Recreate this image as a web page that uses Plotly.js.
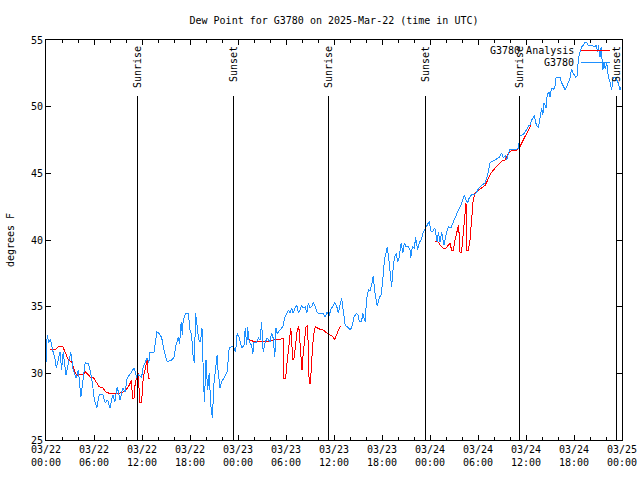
<!DOCTYPE html>
<html>
<head>
<meta charset="utf-8">
<script src="https://cdn.plot.ly/plotly-3.0.1.min.js"></script>
<style>html,body{margin:0;padding:0;background:#fff;}#chart{width:640px;height:480px;}
#chart svg path{shape-rendering:crispEdges;}</style>
</head>
<body>
<div id="chart"></div>
<script>
// Hours since 2025-03-22 00:00 UTC
const obsHours = [0.0,0.15,0.35,0.55,0.8,1.1,1.3,1.75,1.95,2.15,2.5,2.8,3.1,3.4,3.75,4.05,4.35,4.6,4.9,5.3,5.6,5.85,6.05,6.35,6.65,7.1,7.4,7.7,8.0,8.35,8.6,8.9,9.25,9.6,9.9,10.15,10.5,10.7,11.0,11.35,11.6,11.95,12.15,12.5,12.65,12.85,13.0,13.5,13.85,14.05,14.45,14.75,15.15,15.7,16.0,16.25,16.55,16.7,16.9,17.05,17.15,17.45,17.8,18.0,18.2,18.4,18.55,18.7,18.9,19.1,19.3,19.5,19.7,19.8,20.0,20.2,20.4,20.6,20.8,21.0,21.25,21.4,21.5,21.75,21.95,22.4,22.65,22.9,23.2,23.4,23.7,23.9,24.15,24.45,24.75,24.9,25.1,25.2,25.4,25.7,25.85,26.0,26.3,26.55,26.75,26.95,27.15,27.4,27.65,28.0,28.2,28.4,28.6,28.75,28.9,29.25,29.6,29.8,30.1,30.3,30.5,30.7,30.9,31.1,31.35,31.55,31.75,31.95,32.15,32.4,32.6,32.8,33.0,33.2,33.4,33.6,33.85,34.05,34.45,34.65,34.9,35.1,35.4,35.6,35.9,36.1,36.35,36.55,36.75,36.95,37.15,37.4,37.65,38.0,38.2,38.5,38.8,39.0,39.15,39.45,39.6,39.75,39.9,40.0,40.1,40.3,40.5,40.7,40.9,41.1,41.4,41.65,41.9,42.1,42.3,42.5,42.65,42.9,43.1,43.2,43.35,43.55,43.8,43.95,44.15,44.4,44.6,44.8,45.0,45.3,45.5,45.6,45.8,46.05,46.2,46.45,46.65,46.9,47.1,47.3,47.6,47.9,48.15,48.4,48.6,48.9,49.05,49.25,49.45,49.75,50.0,50.3,50.6,50.9,51.25,51.55,51.85,52.1,52.3,52.5,52.7,52.9,53.2,53.6,53.85,54.05,54.45,54.9,55.1,55.3,55.5,55.7,56.1,56.4,56.65,56.95,57.15,57.4,57.6,57.8,58.0,58.4,58.85,59.05,59.15,59.25,59.65,59.9,60.1,60.3,60.5,60.7,60.9,61.05,61.2,61.35,61.55,61.75,61.95,62.1,62.25,62.5,62.65,62.9,63.0,63.2,63.4,63.6,63.75,63.9,64.25,64.45,64.65,64.9,65.1,65.3,65.5,65.7,65.9,66.25,66.4,66.55,66.75,66.95,67.15,67.4,67.6,67.8,68.2,68.6,68.8,68.95,69.05,69.25,69.4,69.6,69.75,69.9,70.1,70.3,70.5,70.7,70.9,71.1,71.35,71.55,71.75,71.9];
const obsDewPoint = [30.8,32.9,32.3,32.6,31.8,31.15,30.4,31.6,30.25,31.6,29.9,30.8,31.6,30.25,29.65,30.25,28.2,29.35,30.8,30.7,30.0,29.0,28.0,27.4,28.4,28.4,27.8,28.0,27.4,28.4,27.85,29.0,28.0,28.9,28.6,29.65,29.9,30.1,30.4,29.7,29.9,29.7,30.5,31.0,31.15,30.8,31.6,31.6,33.1,33.05,32.7,31.75,30.85,31.0,31.2,32.1,32.7,32.2,33.85,32.9,34.0,34.5,34.5,33.25,32.9,31.15,30.8,34.5,33.5,32.5,32.35,33.4,29.35,27.85,31.0,28.75,30.0,27.6,26.65,29.3,30.6,31.4,30.25,28.9,29.35,29.9,30.1,31.9,32.0,32.0,31.6,33.0,32.7,31.9,32.1,33.4,32.1,33.5,32.35,32.1,31.45,32.35,32.35,32.65,32.5,33.85,31.6,32.35,32.65,32.35,33.0,32.65,31.2,33.4,33.0,33.25,33.5,34.1,34.5,34.75,34.5,34.9,34.5,34.9,35.1,34.5,34.75,35.1,34.9,35.0,34.5,35.3,34.9,35.0,35.3,35.1,34.6,34.5,34.5,34.5,34.2,34.6,34.3,34.8,35.05,35.3,35.0,34.5,35.1,35.65,34.75,33.6,33.5,33.3,33.4,34.2,34.5,34.4,33.9,33.9,34.5,34.15,33.85,34.9,35.65,36.25,36.2,36.6,37.3,36.1,35.05,35.65,35.9,37.0,38.5,39.0,39.5,38.3,37.0,36.5,37.6,38.7,39.0,38.35,38.7,39.8,39.0,39.8,39.5,39.5,39.25,38.65,39.5,39.4,40.2,39.25,39.8,40.0,40.5,40.7,41.0,41.4,40.6,40.7,40.9,39.85,40.6,39.85,40.6,39.6,40.4,41.0,40.9,41.35,41.9,42.25,42.6,43.15,43.4,43.0,42.8,43.15,43.4,43.45,43.6,43.85,44.1,44.3,44.7,45.1,45.8,45.85,46.0,46.1,46.2,46.5,46.2,46.3,46.0,46.5,46.8,46.8,46.8,46.9,47.3,47.8,47.9,48.1,48.3,48.55,48.6,49.0,49.15,49.4,48.8,48.6,48.4,49.15,49.9,49.4,50.3,49.9,50.9,51.1,50.7,51.4,51.3,51.4,52.15,52.2,52.2,51.8,51.5,51.25,51.5,51.85,52.15,52.8,52.5,52.2,52.3,53.65,54.0,54.5,54.6,54.85,54.8,54.6,54.6,54.5,54.6,54.1,54.6,53.7,54.5,52.75,53.35,52.8,53.25,52.2,51.85,51.25,52.15,52.2,52.0,51.75,51.25,51.5];

const anaHours = [0.5,0.7,1.1,1.55,1.85,2.1,2.4,2.8,3.2,3.6,3.9,4.25,4.65,4.95,5.3,5.6,5.9,6.25,6.65,7.1,7.5,7.9,8.3,8.75,9.15,9.6,10.0,10.4,10.7,10.8,11.0,11.1,11.35,11.55,11.7,11.95,12.15,12.5,12.65,12.8,13.0,
  19.0,
  25.0,25.5,25.9,26.3,27.15,28.0,28.4,28.8,29.65,29.75,29.95,30.1,30.3,30.5,30.6,30.75,30.85,31.0,31.2,31.4,31.6,31.75,31.9,32.0,32.15,32.4,32.5,32.7,32.8,32.9,33.05,33.2,33.35,33.5,33.65,34.25,34.65,35.15,35.5,35.85,36.05,36.35,36.55,36.75,36.9,
  42.0,
  48.6,49.05,49.25,49.65,50.0,50.3,50.5,50.7,50.9,51.1,51.35,51.55,51.65,51.75,51.95,52.15,52.4,52.5,52.6,52.8,53.0,53.2,53.4,53.6,54.05,54.45,54.9,55.3,55.6,56.0,56.4,56.75,57.1,57.4,57.8,58.2,58.85,59.15,59.45,59.75,60.1,60.5,60.6];
const anaDewPoint = [31.8,31.8,31.75,32.0,32.05,32.0,31.5,31.0,30.85,30.1,29.8,29.95,29.95,30.1,29.9,29.65,29.7,29.35,29.0,28.9,28.6,28.5,28.45,28.45,28.5,28.6,28.75,29.1,29.5,28.1,28.1,29.0,29.8,30.0,27.85,27.85,29.65,30.5,31.0,29.6,29.6,
  null,
  32.55,32.5,32.4,32.4,32.4,32.4,32.5,32.55,32.6,29.6,29.6,30.6,31.6,32.9,33.4,32.0,31.0,31.1,32.25,33.25,33.5,32.0,30.4,30.25,31.5,32.9,33.5,33.6,31.5,29.25,29.25,30.9,32.25,33.0,33.5,33.3,33.25,33.0,32.9,32.75,32.5,32.9,33.25,33.5,33.5,
  null,
  39.9,39.85,39.6,39.4,39.4,39.6,39.75,39.25,39.25,39.9,40.6,41.1,40.4,39.1,39.1,40.6,42.0,42.75,39.25,39.25,40.0,41.5,43.0,43.5,43.75,43.9,44.1,44.6,45.0,45.3,45.55,45.8,46.0,46.0,46.5,46.7,46.75,46.9,47.25,47.5,47.9,48.4,48.6];

const sunHours = [11.375, 23.375, 35.25, 47.375, 59.125, 71.25];
const sunLabels = ['Sunrise','Sunset','Sunrise','Sunset','Sunrise','Sunset'];

const tickHours = [0,6,12,18,24,30,36,42,48,54,60,66,72];
const tickText = ['03/22<br>00:00','03/22<br>06:00','03/22<br>12:00','03/22<br>18:00','03/23<br>00:00','03/23<br>06:00','03/23<br>12:00','03/23<br>18:00','03/24<br>00:00','03/24<br>06:00','03/24<br>12:00','03/24<br>18:00','03/25<br>00:00'];
const yTicks = [25,30,35,40,45,50,55];

const seriesNames = ['G3780 Analysis','G3780'];
const seriesColors = ['#ff0000','#1e90ff'];

const BASE = Date.UTC(2025,2,22,0,0,0);
function pad(n){return (n<10?'0':'')+n;}
function toDate(h){
  const d = new Date(BASE + Math.round(h*3600000));
  return d.getUTCFullYear()+'-'+pad(d.getUTCMonth()+1)+'-'+pad(d.getUTCDate())+' '+pad(d.getUTCHours())+':'+pad(d.getUTCMinutes())+':'+pad(d.getUTCSeconds());
}

const FONT = 'DejaVu Sans Mono, Liberation Mono, monospace';

const traces = [
  {x: anaHours.map(toDate), y: anaDewPoint, type:'scatter', mode:'lines', name: seriesNames[0],
   line:{color:seriesColors[0], width:1}, connectgaps:false, hoverinfo:'skip'},
  {x: obsHours.map(toDate), y: obsDewPoint, type:'scatter', mode:'lines', name: seriesNames[1],
   line:{color:seriesColors[1], width:1}, hoverinfo:'skip'}
];

const shapes = [];
const annotations = [];
sunHours.forEach((h,i)=>{
  shapes.push({type:'line', xref:'x', yref:'paper', x0:toDate(h), x1:toDate(h), y0:0, y1:0.86,
    line:{color:'#000', width:1}});
  annotations.push({xref:'x', yref:'paper', x:toDate(h), y:1, yshift:-4, yanchor:'top', xanchor:'center',
    text:sunLabels[i], textangle:-90, showarrow:false, font:{family:FONT, size:10, color:'#000'}});
});
// legend (gnuplot style: text right-aligned, sample to the right)
const legY = [0.974, 0.944];
seriesNames.forEach((n,i)=>{
  annotations.push({xref:'paper', yref:'paper', x:0.920, y:legY[i], xanchor:'right', yanchor:'middle',
    text:n, showarrow:false, font:{family:FONT, size:10, color:'#000'}});
  shapes.push({type:'line', xref:'paper', yref:'paper', x0:0.929, x1:0.980, y0:legY[i], y1:legY[i],
    line:{color:seriesColors[i], width:1}});
});

const layout = {
  width:640, height:480,
  margin:{l:46, r:18, t:40, b:40, pad:0},
  paper_bgcolor:'#fff', plot_bgcolor:'#fff',
  showlegend:false,
  font:{family:FONT, size:10, color:'#000'},
  title:{text:'Dew Point for G3780 on 2025-Mar-22 (time in UTC)', x:0.5, xref:'paper', xanchor:'center',
    y:1-20/480, yref:'container', yanchor:'middle', font:{family:FONT, size:10, color:'#000'}},
  xaxis:{type:'date', range:[toDate(0), toDate(72)], tickmode:'array',
    tickvals: tickHours.map(toDate), ticktext: tickText,
    ticks:'inside', ticklen:5, tickcolor:'#000', tickwidth:1,
    minor:{dtick:2*3600000, tick0:toDate(0), ticks:'inside', ticklen:3, tickcolor:'#000', showgrid:false},
    showline:true, linecolor:'#000', linewidth:1, mirror:'ticks', showgrid:false, zeroline:false,
    tickfont:{family:FONT, size:10, color:'#000'}, fixedrange:true},
  yaxis:{range:[25,55], tickmode:'array', tickvals:yTicks, ticks:'inside', ticklen:5, tickcolor:'#000',
    showline:true, linecolor:'#000', linewidth:1, mirror:'ticks', showgrid:false, zeroline:false,
    tickfont:{family:FONT, size:10, color:'#000'},
    title:{text:'degrees F', font:{family:FONT, size:10, color:'#000'}, standoff:14}},
  shapes: shapes,
  annotations: annotations
};

Plotly.newPlot('chart', traces, layout, {staticPlot:true, displayModeBar:false});
</script>
</body>
</html>
